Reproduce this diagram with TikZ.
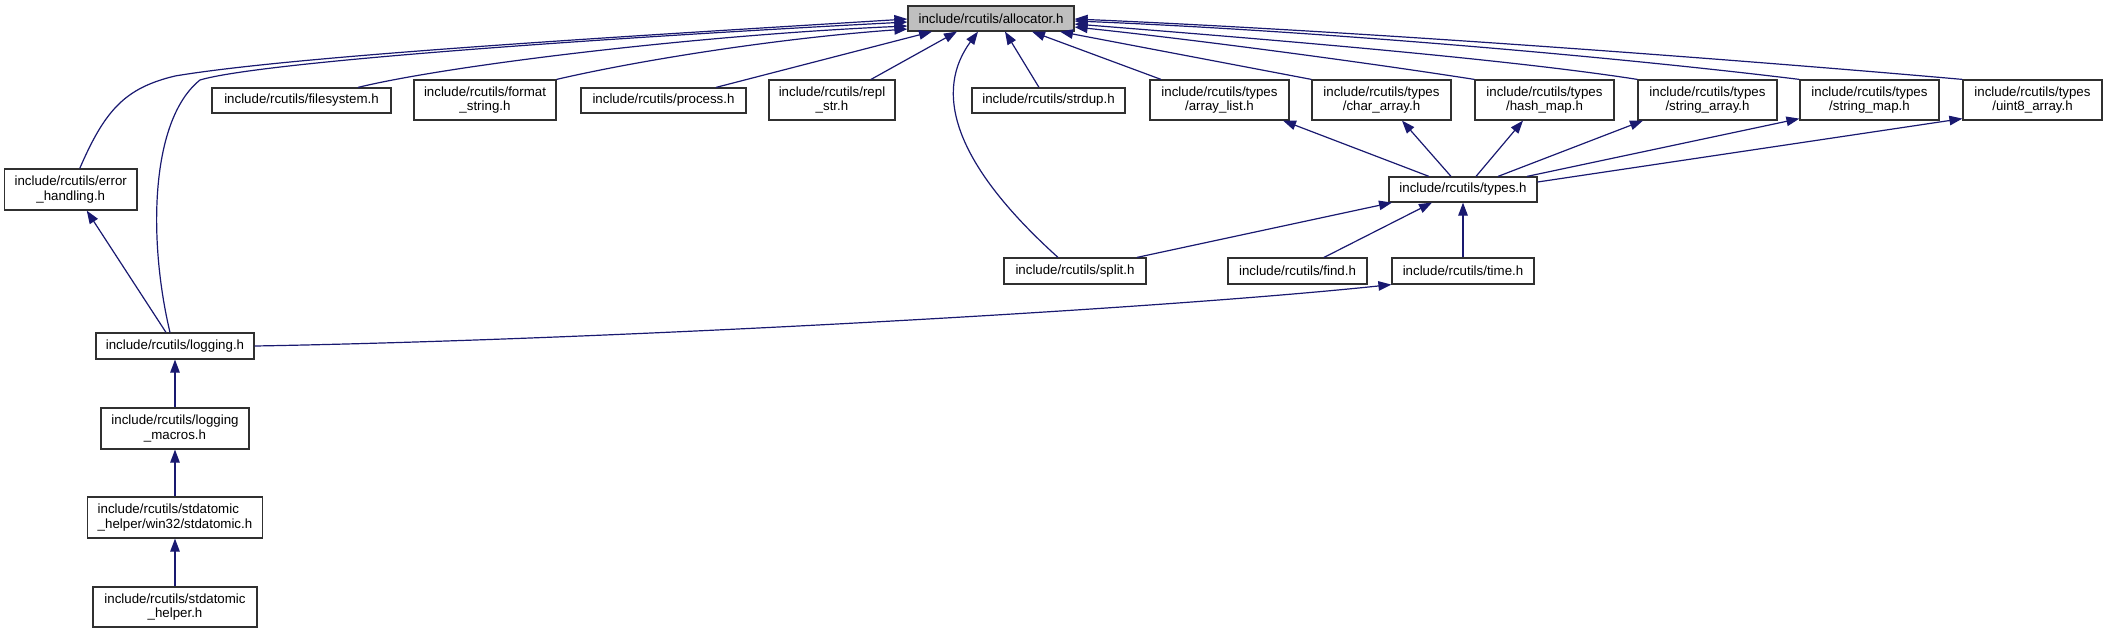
\documentclass[tikz,border=0pt]{standalone}
\usepackage{fontspec}
\setmainfont{Liberation Sans}
\usetikzlibrary{arrows.meta}
\definecolor{edgec}{HTML}{191970}
\definecolor{rootfill}{HTML}{BFBFBF}
\definecolor{boxline}{HTML}{303030}
\tikzset{
  box/.style={draw=boxline, line width=1.2pt, fill=white, inner sep=0pt, align=center,
    font=\fontsize{13.3pt}{14.5pt}\selectfont},
  edge/.style={draw=edgec, line width=1.2pt, -{Triangle[length=13pt,width=9.5pt]}}
}
\begin{document}
\begin{tikzpicture}[x=1pt,y=-1pt]
\useasboundingbox (0,0) rectangle (2107,633);
% nodes
\node[box, fill=rootfill, minimum width=166pt, minimum height=25pt] (alloc) at (991,18.5) {include/rcutils/allocator.h};
\node[box, minimum width=132.5pt, minimum height=41pt] (errh) at (70.75,189.5) {include/rcutils/error\\\_handling.h};
\node[box, minimum width=179pt, minimum height=25pt] (fs) at (301.5,100.5) {include/rcutils/filesystem.h};
\node[box, minimum width=142pt, minimum height=40pt] (fmt) at (485,100) {include/rcutils/format\\\_string.h};
\node[box, minimum width=165pt, minimum height=25pt] (proc) at (663.5,100.5) {include/rcutils/process.h};
\node[box, minimum width=126pt, minimum height=40pt] (repl) at (832,100) {include/rcutils/repl\\\_str.h};
\node[box, minimum width=153pt, minimum height=25pt] (strdup) at (1048.5,100.5) {include/rcutils/strdup.h};
\node[box, minimum width=139pt, minimum height=40pt] (al) at (1219.5,100) {include/rcutils/types\\/array\_list.h};
\node[box, minimum width=139pt, minimum height=40pt] (ca) at (1381.5,100) {include/rcutils/types\\/char\_array.h};
\node[box, minimum width=139pt, minimum height=40pt] (hm) at (1544.5,100) {include/rcutils/types\\/hash\_map.h};
\node[box, minimum width=139pt, minimum height=40pt] (sa) at (1707.5,100) {include/rcutils/types\\/string\_array.h};
\node[box, minimum width=139pt, minimum height=40pt] (sm) at (1869.5,100) {include/rcutils/types\\/string\_map.h};
\node[box, minimum width=139pt, minimum height=40pt] (u8) at (2032.5,100) {include/rcutils/types\\/uint8\_array.h};
\node[box, minimum width=148pt, minimum height=25pt] (types) at (1463,189.5) {include/rcutils/types.h};
\node[box, minimum width=142pt, minimum height=26pt] (split) at (1075,271) {include/rcutils/split.h};
\node[box, minimum width=139pt, minimum height=26pt] (find) at (1297.5,271) {include/rcutils/find.h};
\node[box, minimum width=142pt, minimum height=26pt] (time) at (1463,271) {include/rcutils/time.h};
\node[box, minimum width=158pt, minimum height=26pt] (logging) at (175,346) {include/rcutils/logging.h};
\node[box, minimum width=148pt, minimum height=41pt] (macros) at (175,428.5) {include/rcutils/logging\\\_macros.h};
\node[box, minimum width=175pt, minimum height=41pt, align=left] (win32) at (175,517.5) {include/rcutils/stdatomic\\\_helper/win32/stdatomic.h};
\node[box, minimum width=164pt, minimum height=40pt] (helper) at (175,607) {include/rcutils/stdatomic\\\_helper.h};
% edges to allocator
\draw[edge] ([xshift=9pt]errh.north) .. controls (105,110) and (125,88) .. (175,76) .. controls (300,55) and (650,35) .. ([yshift=-0.5pt]alloc.west);
\draw[edge] ([xshift=-5pt]logging.north) .. controls (148,240) and (150,120) .. (200,80) .. controls (260,62) and (600,38) .. ([yshift=-3.5pt]alloc.west);
\draw[edge] ([xshift=56.5pt]fs.north) .. controls (450,65) and (700,35) .. ([yshift=-7.5pt]alloc.west);
\draw[edge] (fmt.north east) .. controls (640,60) and (780,38) .. ([yshift=-10.5pt]alloc.west);
\draw[edge] ([xshift=52.5pt]proc.north) -- ([xshift=-59pt]alloc.south);
\draw[edge] ([xshift=39pt]repl.north) -- ([xshift=-34pt]alloc.south);
\draw[edge] ([xshift=-17pt]split.north) .. controls (950,160) and (935,90) .. ([xshift=-13pt]alloc.south);
\draw[edge] ([xshift=-9.5pt]strdup.north) -- ([xshift=14pt]alloc.south);
\draw[edge] ([xshift=-58.5pt]al.north) -- ([xshift=41pt]alloc.south);
\draw[edge] (ca.north west) -- ([xshift=69pt]alloc.south);
\draw[edge] (hm.north west) .. controls (1350,60) and (1180,38) .. ([yshift=-8.5pt]alloc.east);
\draw[edge] (sa.north west) .. controls (1500,58) and (1250,38) .. ([yshift=-5.5pt]alloc.east);
\draw[edge] (sm.north west) .. controls (1600,55) and (1300,30) .. ([yshift=-2.5pt]alloc.east);
\draw[edge] (u8.north west) .. controls (1800,65) and (1400,33) .. ([yshift=-0.5pt]alloc.east);
% lower edges
\draw[edge] ([xshift=-9pt]logging.north) -- ([xshift=16pt]errh.south);
\draw[edge] (logging.east) .. controls (600,340) and (1150,310) .. (time.south west);
\draw[edge] ([xshift=-34pt]types.north) -- ([xshift=63.5pt]al.south);
\draw[edge] ([xshift=-12pt]types.north) -- ([xshift=20.5pt]ca.south);
\draw[edge] ([xshift=13pt]types.north) -- ([xshift=-21.5pt]hm.south);
\draw[edge] ([xshift=35pt]types.north) -- ([xshift=-64.5pt]sa.south);
\draw[edge] ([xshift=64pt]types.north) -- ([yshift=2pt]sm.south west);
\draw[edge] ([yshift=7.5pt]types.east) -- ([yshift=2pt]u8.south west);
\draw[edge] ([xshift=62pt]split.north) -- ([xshift=-71pt]types.south);
\draw[edge] ([xshift=26.5pt]find.north) -- ([xshift=-31pt]types.south);
\draw[edge] (time) -- (types);
\draw[edge] (macros) -- (logging);
\draw[edge] (win32) -- (macros);
\draw[edge] (helper) -- (win32);
\end{tikzpicture}
\end{document}
